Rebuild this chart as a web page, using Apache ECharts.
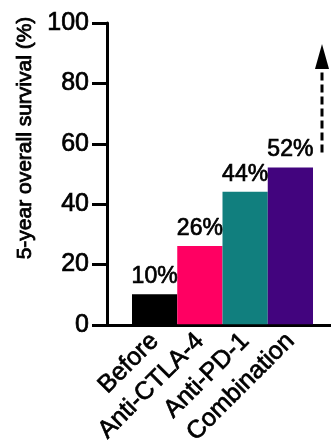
<!DOCTYPE html>
<html>
<head>
<meta charset="utf-8">
<script src="https://cdn.jsdelivr.net/npm/echarts@6/dist/echarts.min.js"></script>
<style>
html,body{margin:0;padding:0;background:#fff;}
#c{width:331px;height:448px;}
</style>
</head>
<body>
<div id="c"></div>
<script>
var categories = ['Before', 'Anti-CTLA-4', 'Anti-PD-1', 'Combination'];
var survival = [10, 26, 44, 52];
var barColors = ['#000000', '#ff0062', '#117f7e', '#42047e'];
var yTicks = [0, 20, 40, 60, 80, 100];
var yTitle = '5-year overall survival (%)';
var arrowFrom = 57;
var arrowTo = 93;

var FONT = 'Liberation Sans, Arial, Helvetica, sans-serif';
var THICK = {textBorderColor: '#000', textBorderWidth: 0.7};
var chart = echarts.init(document.getElementById('c'), null, {renderer: 'canvas'});

var option = {
  animation: false,
  backgroundColor: '#fff',
  grid: [
    {left: 132, right: 18, top: 23, bottom: 123},
    {left: 107, right: -5, top: 23, bottom: 123}
  ],
  xAxis: [
    {
      type: 'category', gridIndex: 0, data: categories,
      axisLine: {show: false}, axisTick: {show: false},
      axisLabel: Object.assign({rotate: 45, margin: 13, fontSize: 25, color: '#000', fontFamily: FONT, interval: 0}, THICK)
    },
    {
      type: 'value', gridIndex: 1, min: 0, max: 1,
      axisLine: {show: true, lineStyle: {color: '#000', width: 3}},
      axisTick: {show: false}, axisLabel: {show: false}, splitLine: {show: false}
    }
  ],
  yAxis: [
    {type: 'value', gridIndex: 0, min: yTicks[0], max: yTicks[yTicks.length - 1], show: false},
    {
      type: 'value', gridIndex: 1, min: yTicks[0], max: yTicks[yTicks.length - 1], interval: yTicks[1] - yTicks[0],
      axisLine: {show: true, lineStyle: {color: '#000', width: 3}},
      axisTick: {show: true, length: 15, lineStyle: {color: '#000', width: 3}},
      axisLabel: Object.assign({margin: 18, fontSize: 25, color: '#000', fontFamily: FONT}, THICK),
      splitLine: {show: false}
    }
  ],
  series: [{
    type: 'bar', xAxisIndex: 0, yAxisIndex: 0,
    barCategoryGap: '0%',
    data: survival.map(function (v, i) { return {value: v, itemStyle: {color: barColors[i]}}; }),
    label: Object.assign({
      show: true, position: 'top', distance: 6,
      formatter: function (p) { return p.value + '%'; },
      fontSize: 23, color: '#000', fontFamily: FONT
    }, THICK)
  }]
};
chart.setOption(option);

var yFrom = chart.convertToPixel({yAxisIndex: 0}, arrowFrom);
var yTo = chart.convertToPixel({yAxisIndex: 0}, arrowTo);
var ax = 322;
chart.setOption({
  graphic: [
    {
      type: 'text', x: 25, y: 138, rotation: Math.PI / 2,
      style: {text: yTitle, font: '21px ' + FONT, fill: '#000', stroke: '#000', lineWidth: 0.8, textAlign: 'center', textVerticalAlign: 'middle'}
    },
    {
      type: 'line', shape: {x1: ax, y1: yFrom, x2: ax, y2: yTo + 24},
      style: {stroke: '#000', lineWidth: 3, lineDash: [8, 4]}
    },
    {
      type: 'polygon', shape: {points: [[ax, yTo], [ax - 7, yTo + 25], [ax + 7, yTo + 25]]},
      style: {fill: '#000'}
    }
  ]
});
</script>
</body>
</html>
